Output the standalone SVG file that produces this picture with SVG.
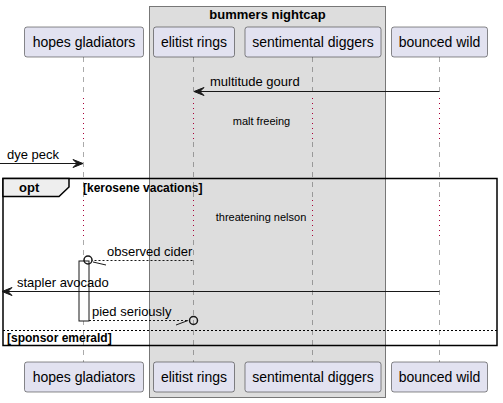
<svg xmlns="http://www.w3.org/2000/svg" width="503" height="403" viewBox="0 0 503 403">
<style>
.p rect{fill:#E2E2F0;stroke:#181818;stroke-width:0.5}
.p text{font-family:"Liberation Sans",Arial,sans-serif;font-size:14px;fill:#000;text-anchor:middle}
.ll{stroke:#555;stroke-width:0.5;stroke-dasharray:5,5;fill:none}
.dl{stroke:#A80036;stroke-width:1;stroke-dasharray:1,4;fill:none}
.m{font-family:"Liberation Sans",Arial,sans-serif;font-size:13px;fill:#000}
.d{font-family:"Liberation Sans",Arial,sans-serif;font-size:11px;fill:#000;text-anchor:middle}
.b{font-family:"Liberation Sans",Arial,sans-serif;font-size:12px;font-weight:bold;fill:#000}
.ln{stroke:#181818;stroke-width:1;fill:none}
.dash{stroke:#181818;stroke-width:1;stroke-dasharray:2,2;fill:none}
.ah{fill:#181818;stroke:#181818;stroke-width:1}
</style>
<g id="box-bummers-nightcap">
<rect x="149.5" y="6.5" width="236" height="391" fill="#DDDDDD" stroke="#777" stroke-width="1"/>
<text x="267.5" y="18.5" font-family="Liberation Sans,Arial,sans-serif" font-size="13" font-weight="bold" text-anchor="middle">bummers nightcap</text>
</g>
<g id="lifelines">
<line class="ll" x1="83.5" y1="57" x2="83.5" y2="97"/>
<line class="dl" x1="83.5" y1="98" x2="83.5" y2="141"/>
<line class="ll" x1="83.5" y1="142" x2="83.5" y2="199"/>
<line class="dl" x1="83.5" y1="200" x2="83.5" y2="239"/>
<line class="ll" x1="83.5" y1="240" x2="83.5" y2="362"/>
<line class="ll" x1="193.5" y1="57" x2="193.5" y2="97"/>
<line class="dl" x1="193.5" y1="98" x2="193.5" y2="141"/>
<line class="ll" x1="193.5" y1="142" x2="193.5" y2="199"/>
<line class="dl" x1="193.5" y1="200" x2="193.5" y2="239"/>
<line class="ll" x1="193.5" y1="240" x2="193.5" y2="362"/>
<line class="ll" x1="312.5" y1="57" x2="312.5" y2="97"/>
<line class="dl" x1="312.5" y1="98" x2="312.5" y2="141"/>
<line class="ll" x1="312.5" y1="142" x2="312.5" y2="199"/>
<line class="dl" x1="312.5" y1="200" x2="312.5" y2="239"/>
<line class="ll" x1="312.5" y1="240" x2="312.5" y2="362"/>
<line class="ll" x1="439.5" y1="57" x2="439.5" y2="97"/>
<line class="dl" x1="439.5" y1="98" x2="439.5" y2="141"/>
<line class="ll" x1="439.5" y1="142" x2="439.5" y2="199"/>
<line class="dl" x1="439.5" y1="200" x2="439.5" y2="239"/>
<line class="ll" x1="439.5" y1="240" x2="439.5" y2="362"/>
</g>
<g id="hopes-gladiators" class="p">
<rect x="24.5" y="27" width="119" height="30" rx="2.5"/>
<text x="84" y="47">hopes gladiators</text>
<rect x="24.5" y="362" width="119" height="30" rx="2.5"/>
<text x="84" y="382">hopes gladiators</text>
</g>
<g id="elitist-rings" class="p">
<rect x="153.5" y="27" width="81" height="30" rx="2.5"/>
<text x="194" y="47">elitist rings</text>
<rect x="153.5" y="362" width="81" height="30" rx="2.5"/>
<text x="194" y="382">elitist rings</text>
</g>
<g id="sentimental-diggers" class="p">
<rect x="245" y="27" width="136" height="30" rx="2.5"/>
<text x="313" y="47">sentimental diggers</text>
<rect x="245" y="362" width="136" height="30" rx="2.5"/>
<text x="313" y="382">sentimental diggers</text>
</g>
<g id="bounced-wild" class="p">
<rect x="391.5" y="27" width="96" height="30" rx="2.5"/>
<text x="439.5" y="47">bounced wild</text>
<rect x="391.5" y="362" width="96" height="30" rx="2.5"/>
<text x="439.5" y="382">bounced wild</text>
</g>
<g id="delays">
<text class="d" x="261.5" y="125">malt freeing</text>
<text class="d" x="261" y="221">threatening nelson</text>
</g>
<g id="frame-opt">
<rect x="3" y="178.5" width="494" height="167" fill="none" stroke="#000" stroke-width="1.5"/>
<polygon points="3,178.5 69,178.5 69,187 59,196.5 3,196.5" fill="#EEEEEE" stroke="#000" stroke-width="1.5"/>
<text x="19" y="192" font-family="Liberation Sans,Arial,sans-serif" font-size="13" font-weight="bold">opt</text>
<text class="b" x="83" y="191.5">[kerosene vacations]</text>
<line x1="3" y1="330.5" x2="497" y2="330.5" stroke="#000" stroke-width="1" stroke-dasharray="2,2"/>
<text class="b" x="7" y="341.5">[sponsor emerald]</text>
</g>
<g id="activation">
<rect x="79" y="261" width="10" height="60" fill="#FFFFFF" stroke="#181818" stroke-width="1"/>
</g>
<g id="connectors">
<line class="ln" x1="439.5" y1="91.5" x2="195" y2="91.5"/>
<polygon class="ah" points="194,91.5 204,87.5 200,91.5 204,95.5"/>
<text class="m" x="210" y="86">multitude gourd</text>
<line class="ln" x1="0" y1="163.5" x2="82" y2="163.5"/>
<polygon class="ah" points="83,163.5 73,159.5 77,163.5 73,167.5"/>
<text class="m" x="7" y="158.5">dye peck</text>
<line class="dash" x1="192.5" y1="260.5" x2="92" y2="260.5"/>
<circle cx="88" cy="260" r="4" fill="none" stroke="#181818" stroke-width="1.5"/>
<line class="ln" x1="93" y1="262" x2="106" y2="265"/>
<text class="m" x="107" y="256">observed cider</text>
<line class="ln" x1="439.5" y1="291.5" x2="3" y2="291.5"/>
<polygon class="ah" points="2,291.5 12,287.5 8,291.5 12,295.5"/>
<text class="m" x="17" y="287">stapler avocado</text>
<line class="dash" x1="89" y1="320.5" x2="189" y2="320.5"/>
<circle cx="193.5" cy="320.5" r="4" fill="none" stroke="#181818" stroke-width="1.5"/>
<line class="ln" x1="176" y1="325" x2="188" y2="320.5"/>
<text class="m" x="92" y="316">pied seriously</text>
</g>
</svg>
